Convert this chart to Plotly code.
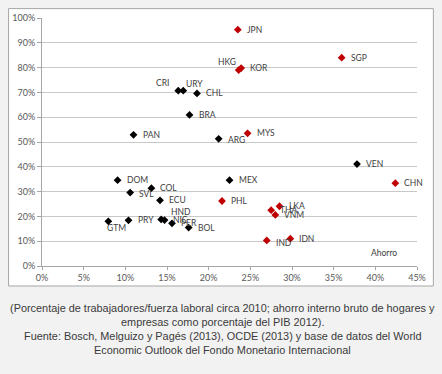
import plotly.graph_objects as go

# Data (percent): x = ahorro, y = informalidad
black_names = ["CRI", "URY", "CHL", "BRA", "PAN", "ARG", "VEN", "MEX", "DOM", "COL", "SVL",
               "ECU", "GTM", "PRY", "HND", "NIC", "PER", "BOL"]
black_x = [16.35, 16.95, 18.6, 17.7, 10.98, 21.2, 37.8, 22.5, 9.07, 13.13, 10.58,
           14.16, 7.96, 10.38, 14.3, 14.7, 15.6, 17.6]
black_y = [70.7, 70.7, 69.6, 60.9, 52.9, 51.3, 41.1, 34.6, 34.6, 31.4, 29.6,
           26.5, 18.0, 18.4, 18.8, 18.5, 17.2, 15.5]

red_names = ["JPN", "SGP", "HKG", "KOR", "MYS", "CHN", "PHL", "LKA", "THA", "VNM", "IND", "IDN"]
red_x = [23.5, 35.96, 23.6, 23.9, 24.67, 42.4, 21.6, 28.5, 27.5, 28.0, 26.97, 29.8]
red_y = [95.3, 84.0, 79.0, 79.8, 53.5, 33.4, 26.2, 24.1, 22.5, 20.6, 10.3, 11.0]

x_ticks = [0, 5, 10, 15, 20, 25, 30, 35, 40, 45]
y_ticks = [0, 10, 20, 30, 40, 50, 60, 70, 80, 90, 100]
x_ticktext = [f"{v}%" for v in x_ticks]
y_ticktext = [f"{v}%" for v in y_ticks]

x_title = "Ahorro"
caption_lines = [
    "(Porcentaje de trabajadores/fuerza laboral circa 2010; ahorro interno bruto de hogares y",
    "empresas como porcentaje del PIB 2012).",
    "Fuente: Bosch, Melguizo y Pagés (2013), OCDE (2013) y base de datos del World",
    "Economic Outlook del Fondo Monetario Internacional",
]

# label placement styles: (xanchor, xshift, yshift)
label_style = {
    "CRI": ("right", -7, 8), "URY": ("left", 1, 7), "HKG": ("right", -1, 8),
    "GTM": ("left", -3, -7), "HND": ("left", 8, 7), "NIC": ("left", 6, 0),
    "IND": ("left", 7, -3), "SVL": ("left", 7, -1), "ARG": ("left", 7, -1),
}
default_style = ("left", 7, 0)

FONT = "Lato, Liberation Sans, sans-serif"
TXT = "#404040"

fig = go.Figure()
fig.add_trace(go.Scatter(x=black_x, y=black_y, mode="markers",
                         marker=dict(symbol="diamond", size=6, color="#000000"),
                         hoverinfo="skip", showlegend=False))
fig.add_trace(go.Scatter(x=red_x, y=red_y, mode="markers",
                         marker=dict(symbol="diamond", size=6, color="#c00000"),
                         hoverinfo="skip", showlegend=False))

annotations = []
for names, xs, ys in [(black_names, black_x, black_y), (red_names, red_x, red_y)]:
    for n, x, y in zip(names, xs, ys):
        xa, xs_, ys_ = label_style.get(n, default_style)
        annotations.append(dict(x=x, y=y, xref="x", yref="y", text=n, showarrow=False,
                                xanchor=xa, yanchor="middle", xshift=xs_, yshift=ys_,
                                font=dict(family=FONT, size=8.5, color=TXT)))

annotations.append(dict(x=41.05, y=5.1, xref="x", yref="y", text=x_title, showarrow=False,
                        xanchor="center", yanchor="middle",
                        font=dict(family=FONT, size=8.5, color=TXT)))

cap_y0 = 309
for i, line in enumerate(caption_lines):
    py = cap_y0 + 14 * i
    annotations.append(dict(x=(221 - 39) / 378, y=(266.5 - py) / 250.5, xref="paper", yref="paper",
                            text=line, showarrow=False, xanchor="center", yanchor="middle",
                            font=dict(family="Liberation Sans, Arial, sans-serif", size=10.9,
                                      color="#3a3a3a")))

fig.update_layout(
    width=442, height=374,
    margin=dict(l=39, r=25, t=16, b=107.5),
    paper_bgcolor="#f2f2f2", plot_bgcolor="rgba(0,0,0,0)",
    annotations=annotations,
    shapes=[dict(type="rect", xref="paper", yref="paper", layer="below",
                 x0=(5.3 - 39) / 378, x1=(433.5 - 39) / 378,
                 y0=(266.5 - 286.7) / 250.5, y1=(266.5 - 6.5) / 250.5,
                 fillcolor="#ffffff", line=dict(color="#a6a6a6", width=1))],
    xaxis=dict(range=[0, 45], tickvals=x_ticks, ticktext=x_ticktext, showgrid=False,
               zeroline=False, showline=True, linecolor="#a6a6a6", linewidth=1,
               ticks="outside", ticklen=3, tickcolor="#a6a6a6",
               tickfont=dict(family=FONT, size=9, color="#595959")),
    yaxis=dict(range=[0, 100], tickvals=y_ticks, ticktext=y_ticktext, showgrid=True,
               gridcolor="#c8c8c8", gridwidth=1, zeroline=False, showline=True,
               linecolor="#a6a6a6", linewidth=1, ticks="outside", ticklen=4,
               tickcolor="#a6a6a6",
               tickfont=dict(family=FONT, size=9, color="#595959")),
)

fig.write_html("out.html", config={"displayModeBar": False},
               post_script="document.body.style.margin='0';document.body.style.background='#f2f2f2';")
